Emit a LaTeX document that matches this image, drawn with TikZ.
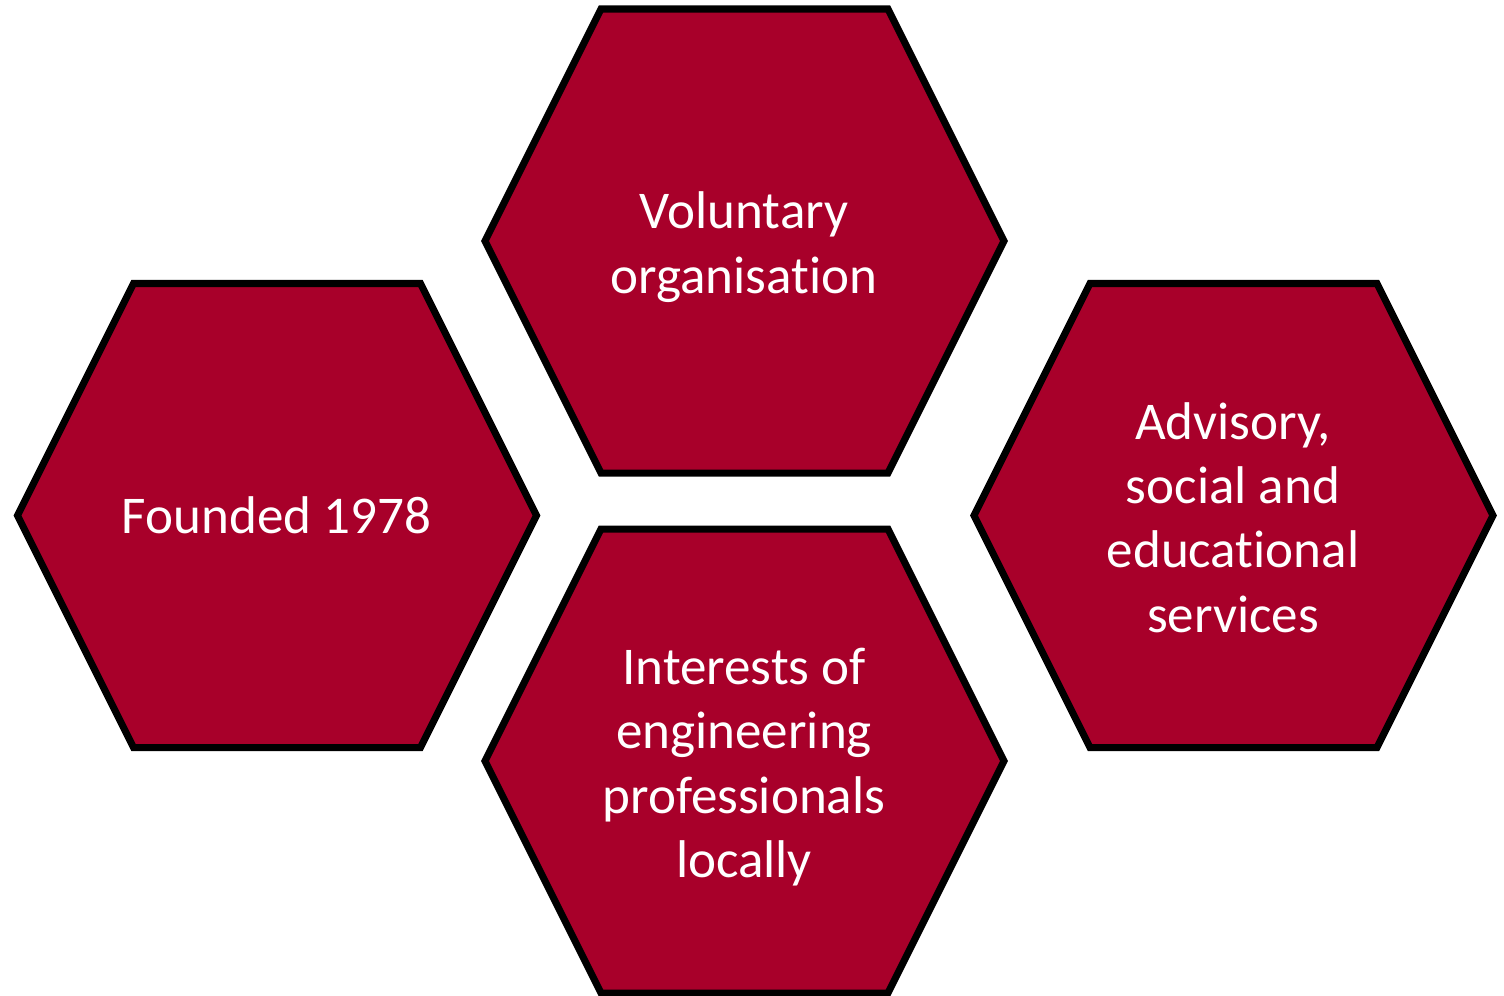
\documentclass[tikz,border=0pt]{standalone}
\usepackage{fontspec}
\setmainfont[Ligatures=NoCommon]{Carlito}
\usepackage{xcolor}
\usepackage{tikz}
\definecolor{hexred}{HTML}{A8002A}
\newcommand{\hexfont}{\fontsize{15.1}{18.3}\selectfont}
\tikzset{
  hexcell/.style={fill=hexred,draw=black,line width=2pt},
  hexlabel/.style={text=white,align=center,font=\hexfont,inner sep=0pt}
}

\begin{document}
\begin{tikzpicture}[line cap=round,line join=miter,x=1.0cm,y=1.0cm]
\useasboundingbox (0,0) rectangle (15.04,-9.95);
% hexagon centres
\coordinate (cfounded) at (2.765,-5.155);
\coordinate (cvoluntary) at (7.44,-2.41);
\coordinate (cinterests) at (7.44,-7.61);
\coordinate (cadvisory) at (12.33,-5.155);
% the cells
\foreach \c in {cfounded,cvoluntary,cinterests,cadvisory}
  \draw[hexcell] (\c) ++(-2.59,0) -- ++(1.16,2.32) -- ++(2.87,0) -- ++(1.16,-2.32)
    -- ++(-1.16,-2.32) -- ++(-2.87,0) -- cycle;
% texts
\node[hexlabel] (founded) at (cfounded) {Founded 1978};
\node[hexlabel] (voluntary) at ([yshift=-0.06cm]cvoluntary) {Voluntary\\organisation};
\node[hexlabel] (interests) at ([yshift=-0.06cm]cinterests) {Interests of\\engineering\\professionals\\locally};
\node[hexlabel] (advisory) at ([yshift=-0.02cm]cadvisory) {Advisory,\\social and\\educational\\services};
\end{tikzpicture}
\end{document}
